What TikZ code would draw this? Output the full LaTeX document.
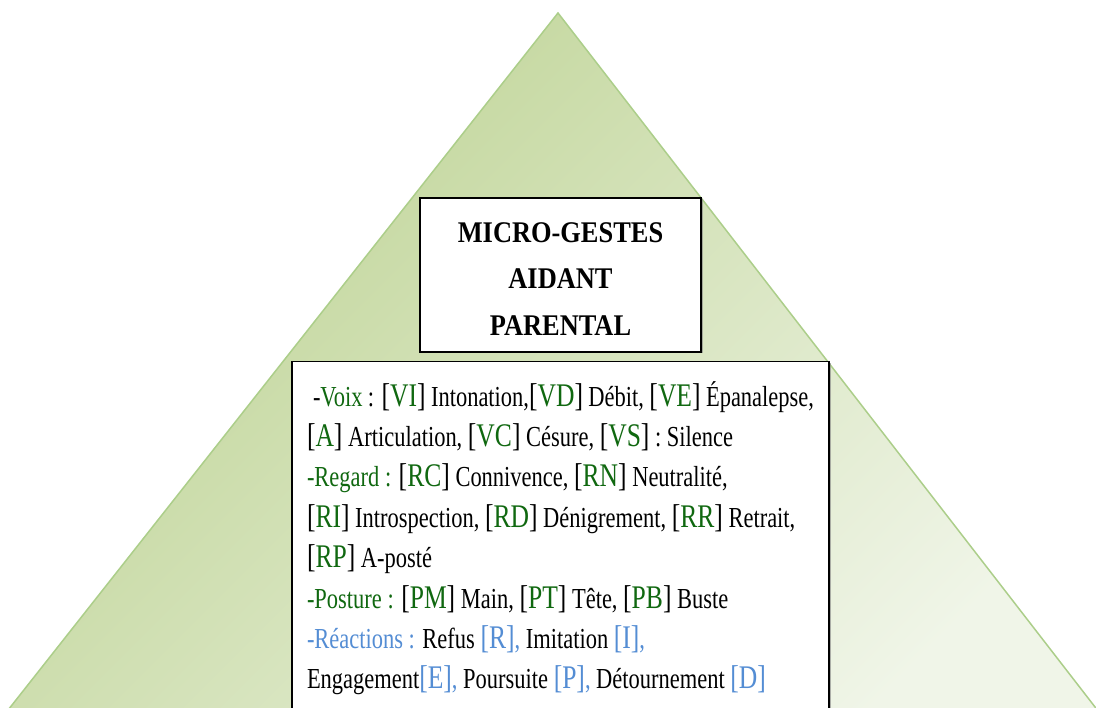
\documentclass[tikz,border=0pt]{standalone}
\usepackage{fontspec}
\setmainfont{Liberation Serif}
\newfontfamily\bodyfont{Liberation Serif}[FakeStretch=0.775]
\newfontfamily\headfont{Liberation Serif}[FakeStretch=0.88]
\usepackage{tikz}
\usetikzlibrary{positioning, shadows}
\usepackage{xcolor}
\definecolor{pyrdark}{RGB}{188,210,145}
\definecolor{pyrlight}{RGB}{240,245,232}
\definecolor{pyredge}{RGB}{172,206,138}
\definecolor{codegreen}{RGB}{16,104,16}
\definecolor{codeblue}{RGB}{84,141,212}
\tikzstyle{titlebox} = [rectangle, minimum width=281pt, minimum height=154pt, align=center, draw=black, line width=1.2pt, fill=white, drop shadow={shadow xshift=1.5pt, shadow yshift=-1.5pt, opacity=0.6}, font={\headfont\bfseries\fontsize{30}{46.5}\selectfont}]
\tikzstyle{listbox}  = [rectangle, anchor=north, draw=black, line width=1.2pt, fill=white, inner xsep=15pt, inner ysep=20pt, drop shadow={shadow xshift=1.5pt, shadow yshift=-1.5pt, opacity=0.6}, font={\bodyfont\fontsize{29}{40.4}\selectfont}]
\newcommand{\gcode}[1]{{\fontsize{33}{40.4}\selectfont[\textcolor{codegreen}{#1}]}}
\newcommand{\bcode}[1]{{\fontsize{33}{40.4}\selectfont\color{codeblue}[#1]}}
\newcommand{\gtag}[1]{\textcolor{codegreen}{#1}}
\newcommand{\btag}[1]{\textcolor{codeblue}{#1}}

\begin{document}
\begin{tikzpicture}[x=1pt, y=1pt, node distance=8pt]
    \useasboundingbox (0,0) rectangle (1096,708);
    \coordinate (apex)  at (558,695);
    \coordinate (baseL) at (-14,-30);
    \coordinate (baseR) at (1119,-30);

    % pyramid
    \begin{scope}
        \clip (0,0) rectangle (1096,708);
        \shadedraw [left color=pyrdark, right color=pyrlight, shading angle=45, draw=pyredge, line width=1.5pt] (apex) -- (baseL) -- (baseR) -- cycle;
    \end{scope}

    \node (title) [titlebox] at (560.5,433) {\rule{0pt}{28pt}MICRO-GESTES\\AIDANT\\PARENTAL};
    \node (list)  [listbox, below=of title] {\parbox[t][420pt][t]{507pt}{\raggedright
        \hspace{6pt}-\gtag{Voix} : \gcode{VI} Intonation,\gcode{VD} Débit, \gcode{VE} Épanalepse,\\
        \gcode{A} Articulation, \gcode{VC} Césure, \gcode{VS} : Silence\\
        \gtag{-Regard :} \gcode{RC} Connivence, \gcode{RN} Neutralité,\\
        \gcode{RI} Introspection, \gcode{RD} Dénigrement, \gcode{RR} Retrait,\\
        \gcode{RP} A-posté\\
        \gtag{-Posture :} \gcode{PM} Main, \gcode{PT} Tête, \gcode{PB} Buste\\
        \btag{-Réactions :} Refus \bcode{R}\btag{,} Imitation \bcode{I}\btag{,}\\
        Engagement\bcode{E}\btag{,} Poursuite \bcode{P}\btag{,} Détournement \bcode{D}}};
\end{tikzpicture}
\end{document}
